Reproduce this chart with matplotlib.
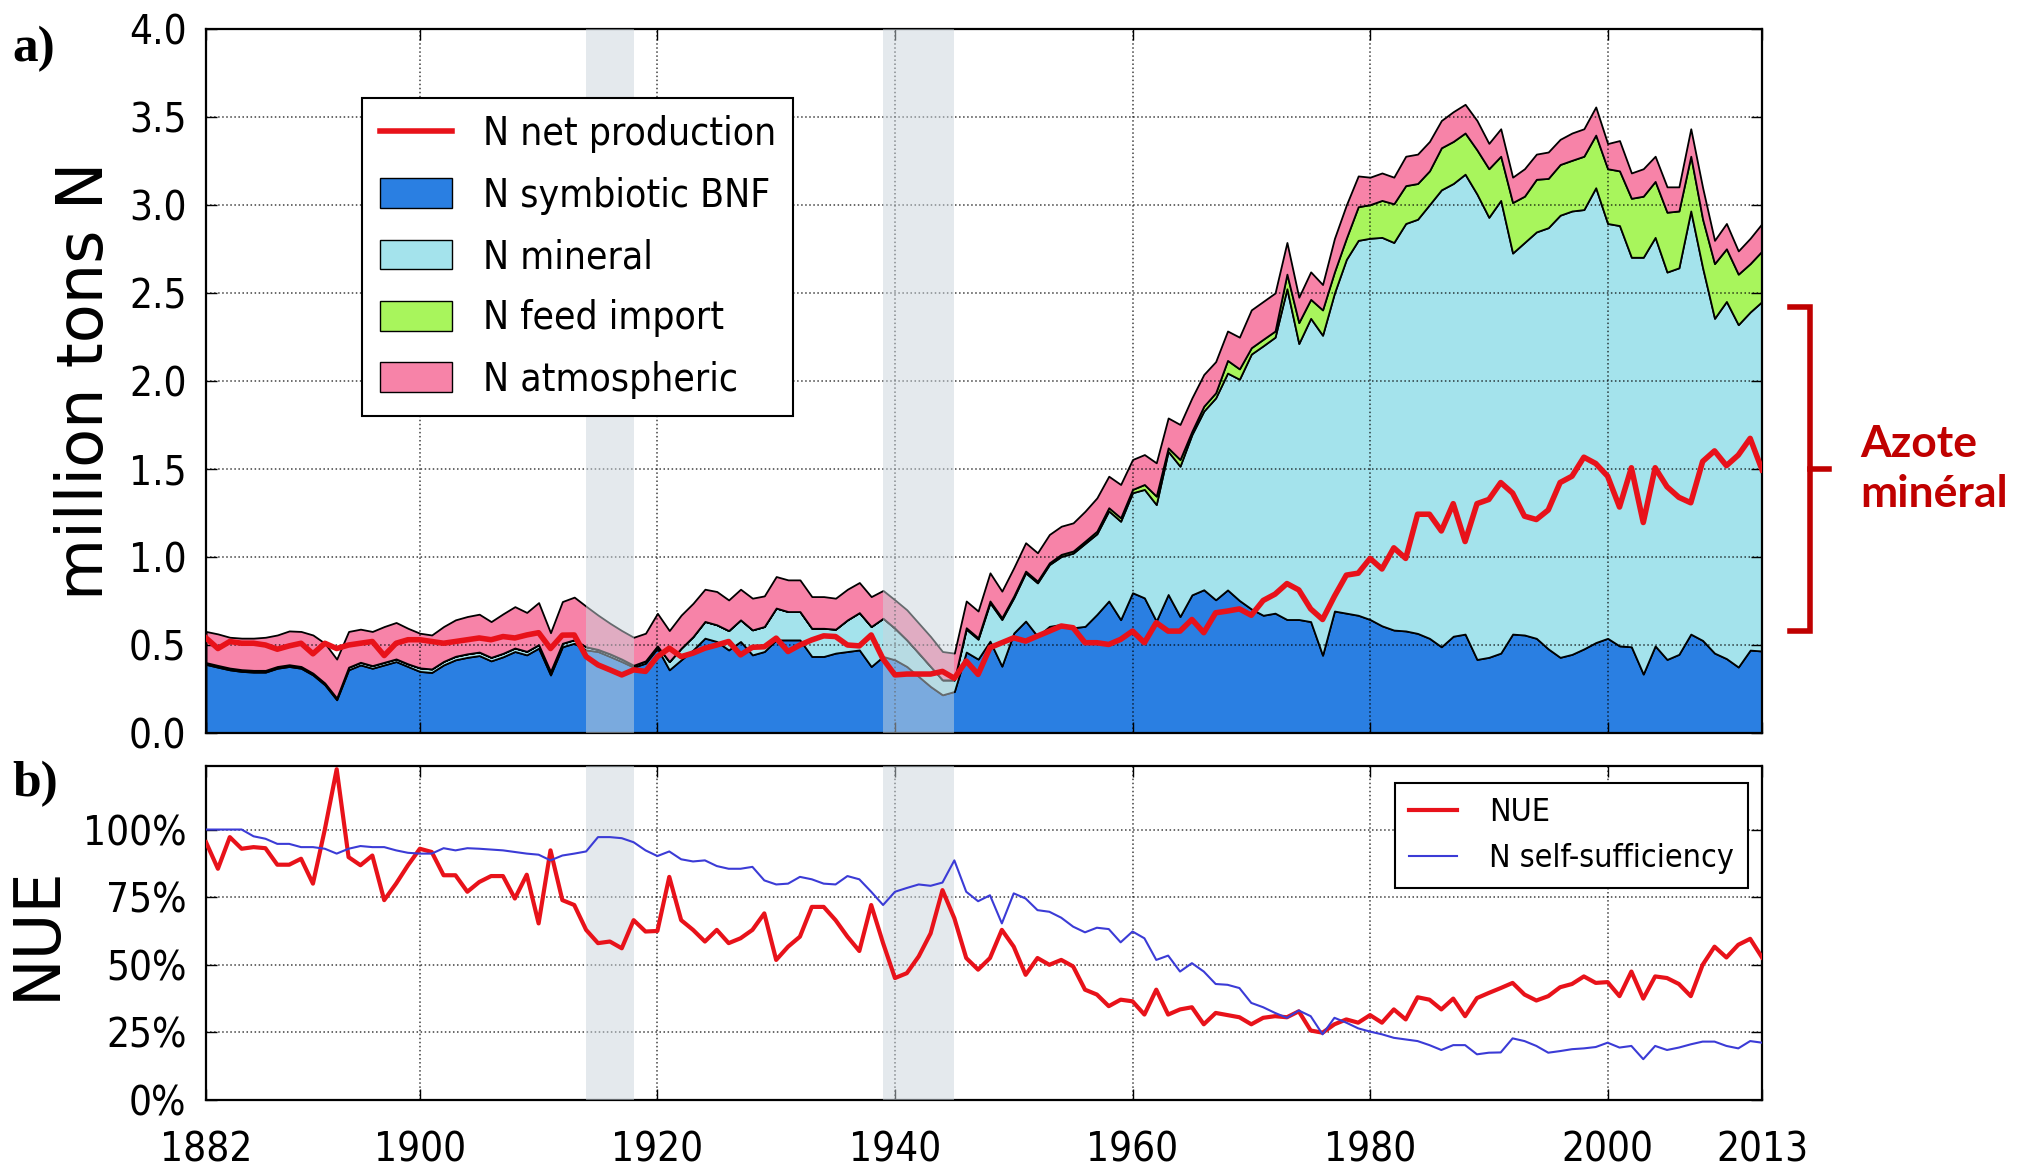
import numpy as np
import matplotlib
matplotlib.use("Agg")
import matplotlib.pyplot as plt
from matplotlib.patches import Patch
from matplotlib.lines import Line2D
import matplotlib.transforms as mtransforms

plt.rcParams['font.family'] = ['DejaVu Sans']
plt.rcParams['font.stretch'] = 'condensed'

# ===== Data (million tons N per year) =====
years = np.arange(1882, 2014)

bnf = [
    0.39, 0.374, 0.359, 0.35, 0.346, 0.346, 0.368, 0.378, 0.368, 0.33,
    0.274, 0.189, 0.359, 0.387, 0.368, 0.387, 0.406, 0.378, 0.35, 0.344,
    0.387, 0.416, 0.43, 0.44, 0.41, 0.433, 0.463, 0.444, 0.482, 0.33,
    0.49, 0.51, 0.472, 0.463, 0.435, 0.406, 0.374, 0.397, 0.482, 0.359,
    0.416, 0.472, 0.539, 0.52, 0.472, 0.52, 0.444, 0.463, 0.529, 0.529,
    0.529, 0.435, 0.435, 0.454, 0.463, 0.472, 0.378, 0.435, 0.416, 0.378,
    0.321, 0.264, 0.217, 0.236, 0.46, 0.42, 0.522, 0.38, 0.568, 0.636,
    0.55, 0.606, 0.617, 0.598, 0.606, 0.674, 0.75, 0.644, 0.797, 0.768,
    0.636, 0.787, 0.662, 0.785, 0.814, 0.757, 0.813, 0.753, 0.705, 0.669,
    0.681, 0.645, 0.645, 0.633, 0.442, 0.693, 0.681, 0.669, 0.645, 0.609,
    0.585, 0.58, 0.566, 0.538, 0.49, 0.55, 0.562, 0.418, 0.43, 0.454,
    0.562, 0.557, 0.538, 0.478, 0.43, 0.447, 0.478, 0.514, 0.538, 0.495,
    0.49, 0.335, 0.495, 0.418, 0.447, 0.562, 0.526, 0.454, 0.423, 0.375,
    0.471, 0.466,
]

mineral = [
    0.01, 0.01, 0.01, 0.01, 0.01, 0.01, 0.01, 0.01, 0.01, 0.01,
    0.01, 0.01, 0.015, 0.015, 0.015, 0.015, 0.015, 0.015, 0.02, 0.02,
    0.02, 0.02, 0.02, 0.02, 0.02, 0.02, 0.02, 0.02, 0.02, 0.02,
    0.02, 0.02, 0.018, 0.012, 0.015, 0.014, 0.011, 0.013, 0.013, 0.047,
    0.066, 0.076, 0.095, 0.095, 0.11, 0.123, 0.142, 0.142, 0.181, 0.161,
    0.161, 0.16, 0.16, 0.136, 0.18, 0.212, 0.227, 0.217, 0.179, 0.151,
    0.133, 0.114, 0.085, 0.066, 0.13, 0.113, 0.218, 0.265, 0.20, 0.274,
    0.303, 0.351, 0.386, 0.424, 0.471, 0.458, 0.512, 0.559, 0.568, 0.616,
    0.662, 0.813, 0.854, 0.911, 1.015, 1.147, 1.232, 1.257, 1.448, 1.531,
    1.568, 1.879, 1.568, 1.723, 1.818, 1.807, 2.01, 2.13, 2.166, 2.207,
    2.202, 2.315, 2.353, 2.464, 2.596, 2.572, 2.613, 2.644, 2.50, 2.572,
    2.165, 2.23, 2.309, 2.393, 2.512, 2.519, 2.496, 2.584, 2.357, 2.388,
    2.213, 2.368, 2.321, 2.201, 2.196, 2.404, 2.117, 1.902, 2.029, 1.945,
    1.921, 1.986,
]

feed_import = [
    0.0, 0.0, 0.0, 0.0, 0.0, 0.0, 0.0, 0.0, 0.0, 0.0,
    0.0, 0.0, 0.0, 0.0, 0.0, 0.0, 0.0, 0.0, 0.0, 0.0,
    0.0, 0.0, 0.0, 0.0, 0.0, 0.0, 0.0, 0.0, 0.0, 0.0,
    0.0, 0.0, 0.0, 0.0, 0.0, 0.0, 0.0, 0.0, 0.0, 0.0,
    0.0, 0.0, 0.0, 0.0, 0.0, 0.0, 0.0, 0.0, 0.0, 0.0,
    0.0, 0.0, 0.0, 0.0, 0.0, 0.0, 0.0, 0.0, 0.0, 0.0,
    0.0, 0.0, 0.0, 0.0, 0.008, 0.008, 0.01, 0.01, 0.01, 0.01,
    0.01, 0.01, 0.012, 0.012, 0.013, 0.015, 0.018, 0.02, 0.019, 0.028,
    0.048, 0.02, 0.038, 0.019, 0.028, 0.029, 0.072, 0.059, 0.036, 0.037,
    0.035, 0.083, 0.119, 0.108, 0.144, 0.12, 0.12, 0.191, 0.191, 0.21,
    0.22, 0.215, 0.203, 0.192, 0.239, 0.239, 0.234, 0.251, 0.276, 0.251,
    0.287, 0.263, 0.299, 0.28, 0.288, 0.288, 0.303, 0.299, 0.311, 0.311,
    0.335, 0.347, 0.318, 0.34, 0.323, 0.311, 0.276, 0.311, 0.299, 0.287,
    0.275, 0.287,
]

atmospheric = [
    0.177, 0.179, 0.175, 0.179, 0.183, 0.188, 0.179, 0.192, 0.199, 0.217,
    0.226, 0.221, 0.203, 0.188, 0.194, 0.203, 0.207, 0.202, 0.197, 0.193,
    0.198, 0.207, 0.212, 0.215, 0.203, 0.224, 0.235, 0.221, 0.239, 0.22,
    0.237, 0.242, 0.23, 0.195, 0.174, 0.162, 0.159, 0.157, 0.185, 0.176,
    0.188, 0.189, 0.183, 0.189, 0.174, 0.174, 0.18, 0.174, 0.179, 0.18,
    0.18, 0.18, 0.18, 0.176, 0.174, 0.171, 0.17, 0.158, 0.161, 0.171,
    0.17, 0.17, 0.161, 0.152, 0.152, 0.152, 0.16, 0.151, 0.161, 0.161,
    0.161, 0.161, 0.16, 0.16, 0.17, 0.189, 0.179, 0.189, 0.17, 0.17,
    0.189, 0.17, 0.199, 0.189, 0.18, 0.177, 0.167, 0.18, 0.215, 0.215,
    0.216, 0.18, 0.144, 0.156, 0.144, 0.19, 0.189, 0.175, 0.156, 0.156,
    0.151, 0.167, 0.167, 0.167, 0.155, 0.169, 0.163, 0.167, 0.144, 0.156,
    0.144, 0.156, 0.143, 0.15, 0.143, 0.155, 0.156, 0.16, 0.143, 0.172,
    0.144, 0.156, 0.143, 0.144, 0.137, 0.156, 0.179, 0.132, 0.144, 0.132,
    0.144, 0.156,
]

net_production = [
    0.54, 0.48, 0.52, 0.51, 0.51, 0.50, 0.476, 0.495, 0.51, 0.45,
    0.51, 0.48, 0.50, 0.51, 0.52, 0.44, 0.51, 0.53, 0.53, 0.52,
    0.51, 0.52, 0.53, 0.54, 0.53, 0.548, 0.54, 0.557, 0.57, 0.48,
    0.556, 0.557, 0.434, 0.387, 0.359, 0.33, 0.359, 0.35, 0.434, 0.482,
    0.434, 0.454, 0.482, 0.50, 0.52, 0.444, 0.487, 0.49, 0.539, 0.463,
    0.50, 0.529, 0.552, 0.548, 0.50, 0.495, 0.557, 0.42, 0.33, 0.335,
    0.335, 0.335, 0.35, 0.311, 0.409, 0.333, 0.485, 0.513, 0.541, 0.522,
    0.551, 0.579, 0.608, 0.598, 0.513, 0.513, 0.503, 0.532, 0.579, 0.513,
    0.627, 0.579, 0.579, 0.645, 0.57, 0.683, 0.693, 0.705, 0.669, 0.753,
    0.789, 0.849, 0.813, 0.705, 0.645, 0.777, 0.897, 0.908, 0.992, 0.932,
    1.052, 0.992, 1.243, 1.243, 1.148, 1.303, 1.088, 1.303, 1.327, 1.423,
    1.363, 1.232, 1.213, 1.267, 1.423, 1.459, 1.567, 1.531, 1.459, 1.284,
    1.507, 1.196, 1.507, 1.399, 1.339, 1.308, 1.543, 1.603, 1.519, 1.579,
    1.674, 1.495,
]

# ===== Data (percent) =====
nue = [
    95.3, 85.5, 97.2, 92.9, 93.5, 93.1, 87.0, 87.0, 89.2, 80.0,
    100.0, 122.3, 89.8, 86.8, 90.4, 73.9, 80.0, 86.8, 92.9, 91.7,
    83.1, 83.1, 77.0, 80.6, 82.8, 82.8, 74.5, 83.3, 65.3, 92.3,
    73.9, 72.1, 62.9, 58.0, 58.6, 56.1, 66.5, 62.3, 62.5, 82.5,
    66.5, 62.9, 58.6, 62.9, 58.0, 59.8, 62.9, 69.0, 51.8, 56.7,
    60.4, 71.4, 71.4, 66.5, 60.4, 55.1, 72.1, 58.0, 45.1, 46.9,
    53.1, 61.6, 77.6, 67.2, 52.5, 48.2, 52.5, 62.9, 56.7, 46.3,
    52.5, 50.0, 51.8, 49.4, 40.8, 39.0, 34.7, 37.1, 36.5, 31.6,
    40.8, 31.6, 33.5, 34.3, 28.0, 32.2, 31.4, 30.6, 28.0, 30.4,
    31.0, 30.6, 32.8, 25.7, 24.9, 28.0, 29.8, 28.6, 31.4, 28.6,
    33.5, 29.8, 38.0, 37.1, 33.5, 37.5, 31.0, 37.7, 39.6, 41.4,
    43.3, 39.0, 36.8, 38.4, 41.7, 42.9, 45.7, 43.3, 43.6, 38.4,
    47.5, 37.5, 45.7, 45.1, 42.9, 38.4, 50.0, 56.7, 52.7, 57.4,
    59.6, 52.7,
]

self_sufficiency = [
    100.0, 100.0, 100.0, 100.0, 97.5, 96.6, 94.7, 94.7, 93.5, 93.5,
    92.9, 91.1, 92.9, 93.9, 93.5, 93.5, 92.3, 91.4, 91.1, 91.1,
    93.1, 92.3, 93.1, 92.9, 92.6, 92.3, 91.7, 91.1, 90.7, 88.6,
    90.4, 91.1, 91.9, 97.2, 97.2, 96.8, 95.3, 92.3, 90.2, 91.9,
    89.0, 88.2, 88.6, 86.5, 85.5, 85.5, 86.2, 81.2, 79.7, 80.0,
    82.5, 81.6, 80.0, 79.7, 82.8, 81.6, 77.0, 72.1, 77.0, 78.4,
    79.7, 79.2, 80.4, 88.6, 77.0, 73.5, 75.7, 65.3, 76.4, 74.5,
    70.2, 69.6, 67.4, 64.1, 62.0, 63.7, 63.2, 58.3, 62.3, 59.8,
    51.8, 53.4, 47.5, 50.6, 47.5, 42.9, 42.6, 41.4, 35.9, 34.3,
    32.2, 30.4, 33.1, 31.0, 24.3, 30.4, 28.6, 26.5, 25.3, 24.3,
    23.0, 22.4, 21.8, 20.3, 18.5, 20.3, 20.3, 16.9, 17.5, 17.6,
    22.8, 21.8, 20.0, 17.5, 18.1, 18.8, 19.1, 19.6, 21.2, 19.4,
    20.0, 15.1, 20.0, 18.5, 19.4, 20.6, 21.6, 21.6, 20.0, 19.1,
    21.8, 21.2,
]

war_periods = [(1914, 1918), (1939, 1945)]
xticks = [1882, 1900, 1920, 1940, 1960, 1980, 2000, 2013]

# ===== Colours =====
c_bnf = '#2a7fe2'
c_min = '#a4e3ec'
c_feed = '#a8f55c'
c_atm = '#f783a8'
c_red = '#e8121a'
c_blue = '#3b3bd6'
c_war = '#cbd5dc'
c_note = '#c00000'

fig = plt.figure(figsize=(20.42, 11.73), dpi=100)
ax1 = fig.add_axes([0.1009, 0.3751, 0.762, 0.6002])
ax2 = fig.add_axes([0.1009, 0.0622, 0.762, 0.2848])


def style_axis(ax):
    ax.set_xlim(1882, 2013)
    ax.set_xticks(xticks)
    ax.grid(True, linestyle=':', color='k', linewidth=1.1, alpha=0.75)
    ax.set_axisbelow(False)
    ax.tick_params(direction='in', length=8, width=1, top=True, right=True,
                   labelsize=29, pad=14)
    for s in ax.spines.values():
        s.set_linewidth(1.6)
    for a, b in war_periods:
        ax.axvspan(a, b, color=c_war, alpha=0.5, lw=0, zorder=3)


# ===== a) nitrogen inputs =====
ax1.stackplot(years, bnf, mineral, feed_import, atmospheric,
              colors=[c_bnf, c_min, c_feed, c_atm],
              edgecolor='k', linewidth=1.3, zorder=2)
ax1.plot(years, net_production, color=c_red, lw=4, zorder=4)
style_axis(ax1)
ax1.set_ylim(0, 4.0)
ax1.set_yticks(np.arange(0, 4.01, 0.5))
ax1.set_yticklabels([f'{v:.1f}' for v in np.arange(0, 4.01, 0.5)])
ax1.set_xticklabels([])
ax1.set_ylabel('million tons N', fontsize=46, fontstretch='normal')
ax1.yaxis.set_label_coords(-0.058, 0.5)

handles1 = [
    Line2D([], [], color=c_red, lw=4),
    Patch(facecolor=c_bnf, edgecolor='k'),
    Patch(facecolor=c_min, edgecolor='k'),
    Patch(facecolor=c_feed, edgecolor='k'),
    Patch(facecolor=c_atm, edgecolor='k'),
]
labels1 = ['N net production', 'N symbiotic BNF', 'N mineral',
           'N feed import', 'N atmospheric']
leg1 = ax1.legend(handles1, labels1, loc='upper left',
                  bbox_to_anchor=(0.1003, 0.902), borderaxespad=0,
                  fontsize=28, fancybox=False, framealpha=1,
                  edgecolor='k', handlelength=1.85, handleheight=0.8,
                  labelspacing=0.6, handletextpad=0.8, borderpad=0.45)
leg1.get_frame().set_linewidth(1.5)
leg1.set_zorder(10)

# bracket for mineral nitrogen
trans = mtransforms.blended_transform_factory(ax1.transAxes, ax1.transData)
br_top, br_bot = 2.42, 0.58
br_mid = (br_top + br_bot) / 2
ax1.add_line(Line2D([1.018, 1.031, 1.031, 1.018], [br_top, br_top, br_bot, br_bot],
                    transform=trans, color=c_note, lw=4, clip_on=False,
                    solid_joinstyle='miter'))
ax1.add_line(Line2D([1.031, 1.043], [br_mid, br_mid], transform=trans,
                    color=c_note, lw=4, clip_on=False))
ax1.text(1.063, br_mid, 'Azote\nminéral', transform=trans, color=c_note,
         fontsize=32, fontweight='bold', family='Lato', fontstretch='normal',
         ha='left', va='center', linespacing=1.3)

# ===== b) NUE and self-sufficiency =====
ax2.plot(years, nue, color=c_red, lw=3, label='NUE', zorder=4)
ax2.plot(years, self_sufficiency, color=c_blue, lw=1.5,
         label='N self-sufficiency', zorder=4)
style_axis(ax2)
ax2.set_ylim(0, 123.5)
ax2.set_yticks([0, 25, 50, 75, 100])
ax2.set_yticklabels(['0%', '25%', '50%', '75%', '100%'])
ax2.tick_params(axis='x', pad=22)
ax2.set_ylabel('NUE', fontsize=46, fontstretch='normal')
ax2.yaxis.set_label_coords(-0.089, 0.5)
leg2 = ax2.legend(loc='upper right', bbox_to_anchor=(0.991, 0.949),
                  borderaxespad=0, fontsize=23, fancybox=False, framealpha=1,
                  edgecolor='k', handlelength=1.5, labelspacing=0.45,
                  handletextpad=1.0, borderpad=0.45)
leg2.get_frame().set_linewidth(1.5)
leg2.set_zorder(10)

# panel letters
fig.text(0.006, 0.978, 'a)', fontsize=37, fontweight='bold',
         family='Liberation Serif', fontstretch='normal', va='top')
fig.text(0.006, 0.351, 'b)', fontsize=37, fontweight='bold',
         family='Liberation Serif', fontstretch='normal', va='top')

fig.savefig('out.png', dpi=100)
